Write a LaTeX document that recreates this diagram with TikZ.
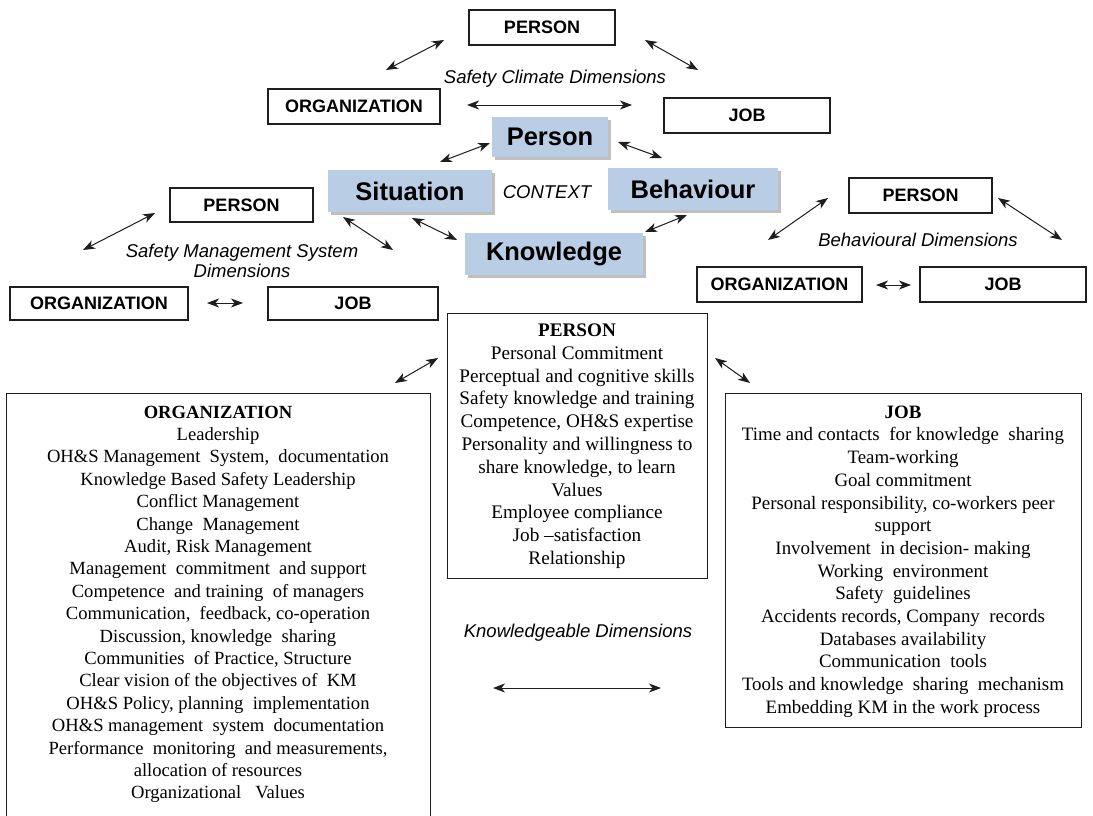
\documentclass[tikz,border=0pt]{standalone}
\usepackage{fontspec}
\setmainfont{Liberation Serif}
\setsansfont{Liberation Sans}
\usetikzlibrary{arrows.meta,shadows}
\definecolor{bluefill}{RGB}{185,205,229}
\definecolor{linecol}{RGB}{30,30,30}
\tikzset{
  smallbox/.style={draw=linecol, line width=1.1pt, inner sep=0pt,
    font=\sffamily\bfseries\fontsize{18}{21}\selectfont},
  bluebox/.style={fill=bluefill, inner sep=0pt,
    font=\sffamily\bfseries\fontsize{25.5}{30}\selectfont,
    drop shadow={shadow xshift=3pt, shadow yshift=-3pt, fill=black, opacity=0.25}},
  lbl/.style={inner sep=0pt, font=\sffamily\itshape\fontsize{18.5}{19.5}\selectfont, align=center},
  arr/.style={{Stealth[length=12pt,width=9pt,inset=3.5pt]}-{Stealth[length=12pt,width=9pt,inset=3.5pt]},
    line width=1pt, draw=linecol},
  listbox/.style={draw=linecol, line width=1.1pt, inner sep=0pt, anchor=north west},
  listtext/.style={inner sep=0pt, anchor=north, align=center}
}
\begin{document}
\begin{tikzpicture}[x=1pt,y=-1pt]
\useasboundingbox (0,0) rectangle (1093,816);
\fill[white] (0,0) rectangle (1093,816);

% ---------- Safety Climate Dimensions (top) ----------
\node[smallbox, minimum width=146pt, minimum height=35pt] (ptop) at (542,27.5) {PERSON};
\node[smallbox, minimum width=172pt, minimum height=35pt] (otop) at (354,106.5) {ORGANIZATION};
\node[smallbox, minimum width=166pt, minimum height=35pt] (jtop) at (747,115.5) {JOB};
\node[lbl] (sclbl) at (555,79) {Safety Climate Dimensions};
\coordinate (a1s) at (444,40); \coordinate (a1e) at (386,70);
\coordinate (a2s) at (645,40); \coordinate (a2e) at (698,70);
\coordinate (a3s) at (467,105); \coordinate (a3e) at (632,105);
\draw[arr] (a1s) -- (a1e);
\draw[arr] (a2s) -- (a2e);
\draw[arr] (a3s) -- (a3e);

% ---------- Context (blue boxes) ----------
\node[bluebox, minimum width=116pt, minimum height=40pt] (bperson) at (550,137) {Person};
\node[bluebox, minimum width=164pt, minimum height=42pt] (bsit) at (410,191) {Situation};
\node[bluebox, minimum width=170pt, minimum height=42pt] (bbeh) at (693,189) {Behaviour};
\node[bluebox, minimum width=178pt, minimum height=42pt] (bknow) at (554,254) {Knowledge};
\node[lbl] (ctx) at (547,192) {CONTEXT};
\coordinate (c1s) at (490,143); \coordinate (c1e) at (440,162);
\coordinate (c2s) at (618,142); \coordinate (c2e) at (662,158);
\coordinate (c3s) at (412,218); \coordinate (c3e) at (457,240);
\coordinate (c4s) at (645,232); \coordinate (c4e) at (687,215);
\draw[arr] (c1s) -- (c1e);
\draw[arr] (c2s) -- (c2e);
\draw[arr] (c3s) -- (c3e);
\draw[arr] (c4s) -- (c4e);

% ---------- Safety Management System Dimensions (left) ----------
\node[smallbox, minimum width=143pt, minimum height=34pt] (lp) at (241.5,205) {PERSON};
\node[smallbox, minimum width=178pt, minimum height=33pt] (lo) at (99,303.5) {ORGANIZATION};
\node[smallbox, minimum width=170pt, minimum height=33pt] (lj) at (353,303.5) {JOB};
\node[lbl] (smslbl) at (242,261) {Safety Management System\\Dimensions};
\coordinate (l1s) at (155,213); \coordinate (l1e) at (83,250);
\coordinate (l2s) at (343,217); \coordinate (l2e) at (393,250);
\coordinate (l3s) at (207,303); \coordinate (l3e) at (243,303);
\draw[arr] (l1s) -- (l1e);
\draw[arr] (l2s) -- (l2e);
\draw[arr] (l3s) -- (l3e);

% ---------- Behavioural Dimensions (right) ----------
\node[smallbox, minimum width=143pt, minimum height=35pt] (rp) at (920.5,195.5) {PERSON};
\node[smallbox, minimum width=165pt, minimum height=35pt] (ro) at (779.5,284.5) {ORGANIZATION};
\node[smallbox, minimum width=166pt, minimum height=35pt] (rj) at (1003,284.5) {JOB};
\node[lbl] (bdlbl) at (918,240) {Behavioural Dimensions};
\coordinate (r1s) at (828,198); \coordinate (r1e) at (768,240);
\coordinate (r2s) at (998,198); \coordinate (r2e) at (1062,240);
\coordinate (r3s) at (876,285); \coordinate (r3e) at (911,285);
\draw[arr] (r1s) -- (r1e);
\draw[arr] (r2s) -- (r2e);
\draw[arr] (r3s) -- (r3e);

% ---------- Knowledgeable Dimensions (bottom) ----------
\node[listbox, minimum width=260pt, minimum height=265pt] (kperson) at (447,313) {};
\node[listbox, minimum width=424pt, minimum height=430pt] (korg) at (6,393) {};
\node[listbox, minimum width=356pt, minimum height=334pt] (kjob) at (725,393) {};

\node[listtext, font=\fontsize{19.2}{22.8}\selectfont] (kpersontxt) at (577,323.5) {\textbf{PERSON}\\
Personal Commitment\\
Perceptual and cognitive skills\\
Safety knowledge and training\\
Competence, OH\&S expertise\\
Personality and willingness to\\
share knowledge, to learn\\
Values\\
Employee compliance\\
Job –satisfaction\\
Relationship};

\node[listtext, font=\fontsize{18.6}{22.4}\selectfont] (korgtxt) at (218,405.5) {\textbf{ORGANIZATION}\\
Leadership\\
OH\&S Management\ \ System,\ \ documentation\\
Knowledge Based Safety Leadership\\
Conflict Management\\
Change\ \ Management\\
Audit, Risk Management\\
Management\ \ commitment\ \ and support\\
Competence\ \ and training\ \ of managers\\
Communication,\ \ feedback,\ co-operation\\
Discussion, knowledge\ \ sharing\\
Communities\ \ of Practice, Structure\\
Clear vision of the objectives of\ \ KM\\
OH\&S Policy, planning\ \ implementation\\
OH\&S management\ \ system\ \ documentation\\
Performance\ \ monitoring\ \ and measurements,\\
allocation of resources\\
Organizational\ \ \ Values};

\node[listtext, font=\fontsize{18.9}{22.7}\selectfont] (kjobtxt) at (903,405.5) {\textbf{JOB}\\
Time and contacts\ \ for knowledge\ \ sharing\\
Team-working\\
Goal commitment\\
Personal responsibility, co-workers peer\\
support\\
Involvement\ \ in decision- making\\
Working\ \ environment\\
Safety\ \ guidelines\\
Accidents records, Company\ \ records\\
Databases availability\\
Communication\ \ tools\\
Tools and knowledge\ \ sharing\ \ mechanism\\
Embedding KM in the work process};

\node[lbl] (kdlbl) at (578,633) {Knowledgeable Dimensions};
\coordinate (k1s) at (395,383); \coordinate (k1e) at (438,358);
\coordinate (k2s) at (715,358); \coordinate (k2e) at (750,383);
\coordinate (k3s) at (493,688); \coordinate (k3e) at (661,688);
\draw[arr] (k1s) -- (k1e);
\draw[arr] (k2s) -- (k2e);
\draw[arr] (k3s) -- (k3e);
\end{tikzpicture}
\end{document}
